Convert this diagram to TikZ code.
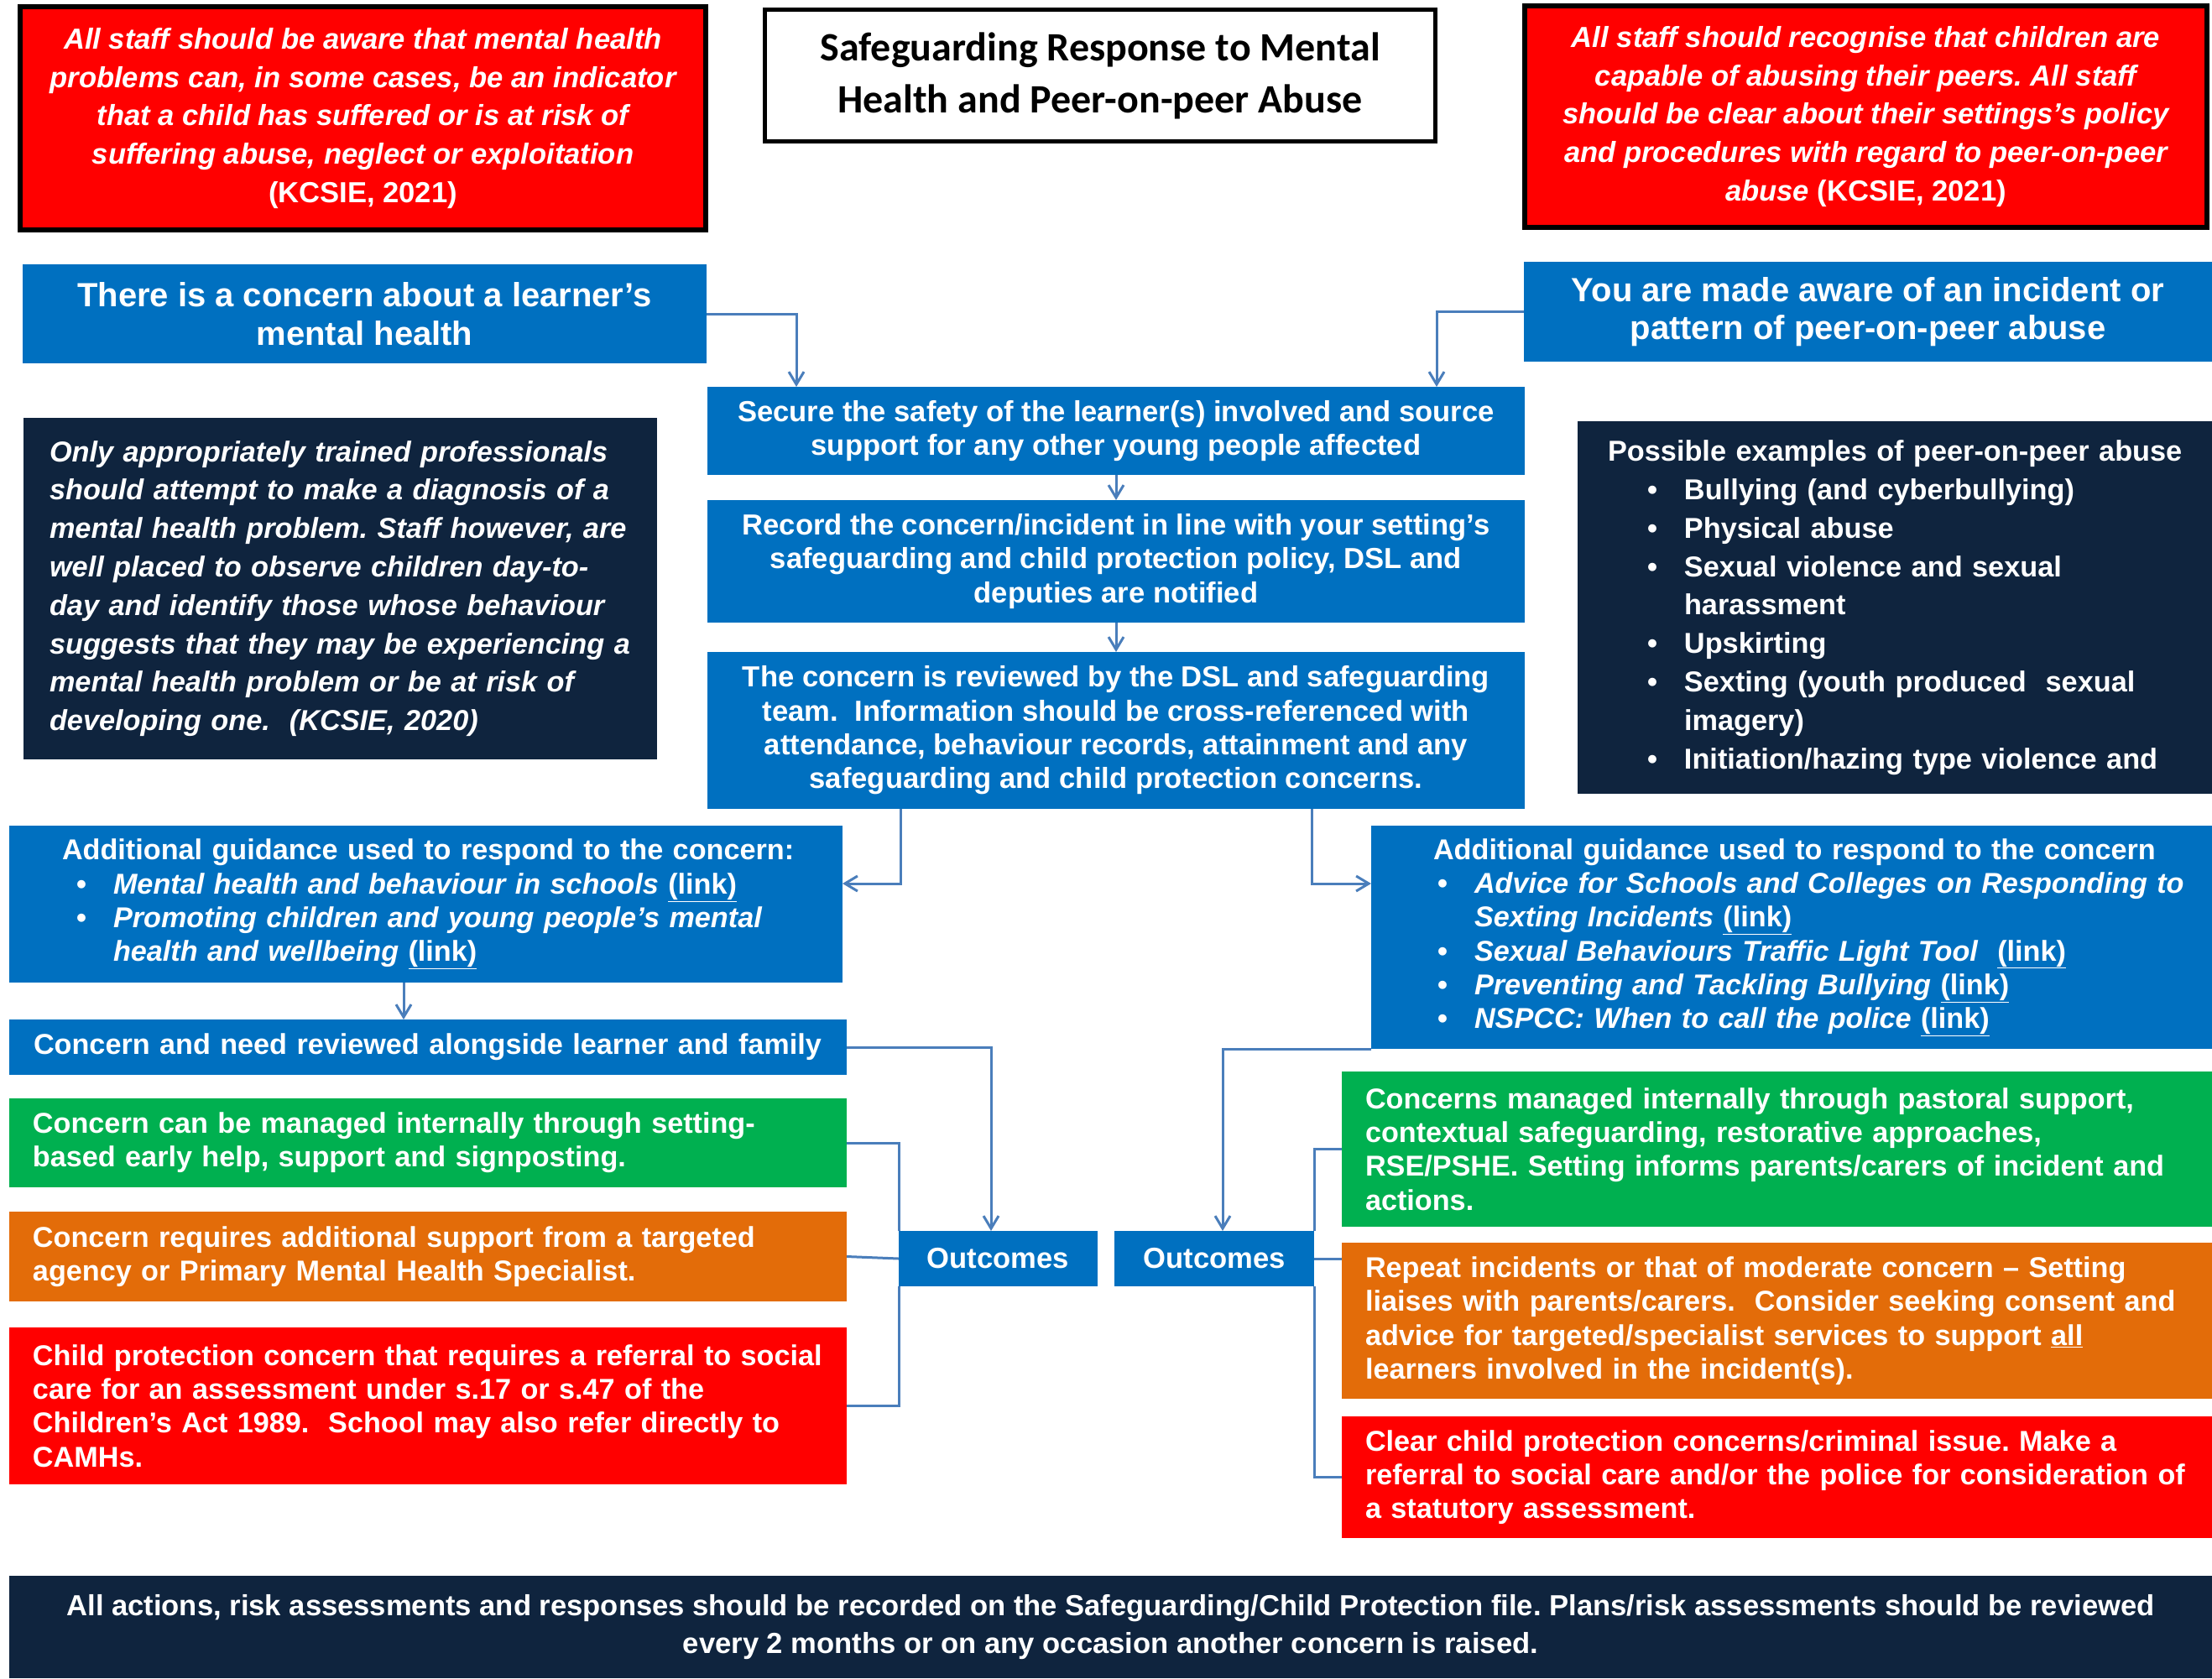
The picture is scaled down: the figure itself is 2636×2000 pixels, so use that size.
\documentclass[tikz,border=0pt]{standalone}
\usepackage{fontspec}
\setmainfont{Liberation Sans}
\newfontfamily\titlefont{Carlito}
\usetikzlibrary{arrows.meta}
\definecolor{ored}{HTML}{FF0000}
\definecolor{oblue}{HTML}{0070C0}
\definecolor{onavy}{HTML}{0F243E}
\definecolor{ogreen}{HTML}{00B050}
\definecolor{oorange}{HTML}{E36C09}
\definecolor{oline}{HTML}{4A7EBB}
\frenchspacing
\newcommand\lk{\underline{(link)}}
\newcommand\bitem[2]{\hspace*{#1}\makebox[#2][l]{•}}
\newcommand\fbody{\bfseries\fontsize{34.6}{40.3}\selectfont}
\newcommand\fleft{\bfseries\fontsize{34.2}{40.3}\selectfont}
\newcommand\fwide{\bfseries\fontsize{34.6}{45.8}\selectfont}
\newcommand\fdark{\bfseries\fontsize{34.3}{45.8}\selectfont}
\newcommand\fhead{\bfseries\fontsize{40}{45.5}\selectfont}
\begin{document}
\begin{tikzpicture}[x=1pt,y=-1pt,
  box/.style={rectangle, inner sep=0pt, outer sep=0pt, anchor=north west, text=white, font=\fbody},
  lbox/.style={box, align=left, text width=#1, minimum width=#1, font=\fleft},
  conn/.style={draw=oline, line width=3pt},
  arr/.style={conn, -{Straight Barb[length=15pt,width=18pt]}}
]
\fill[white] (0,0) rectangle (2636,2000);
\useasboundingbox (0,0) rectangle (2636,2000);

% top row
\node[box, fill=ored, draw=black, line width=6pt, minimum width=817pt, minimum height=266pt, align=center, font=\fwide\itshape] (redTL) at (24,8)
 {All staff should be aware that mental health\\ problems can, in some cases, be an indicator\\ that a child has suffered or is at risk of\\ suffering abuse, neglect or exploitation\\ \upshape(KCSIE, 2021)};
\node[box, fill=white, draw=black, line width=5pt, text=black, minimum width=799pt, minimum height=157pt, align=center, font=\titlefont\bfseries\fontsize{48}{62}\selectfont] (title) at (911.5,11.5)
 {Safeguarding Response to Mental\\ Health and Peer-on-peer Abuse};
\node[box, fill=ored, draw=black, line width=6pt, minimum width=813pt, minimum height=264pt, align=center, font=\fwide\itshape] (redTR) at (1817,7)
 {All staff should recognise that children are\\ capable of abusing their peers. All staff\\ should be clear about their settings’s policy\\ and procedures with regard to peer-on-peer\\ abuse \upshape(KCSIE, 2021)};

% blue headings
\node[box, fill=oblue, minimum width=815pt, minimum height=118pt, align=center, font=\fhead] (blueL) at (27,315)
 {There is a concern about a learner’s\\ mental health};
\node[box, fill=oblue, minimum width=820pt, minimum height=119pt, align=center, font=\fhead] (blueR) at (1816,312)
 {You are made aware of an incident or\\ pattern of peer-on-peer abuse};

% middle column
\node[box, fill=oblue, minimum width=974pt, minimum height=105pt, align=center] (secure) at (843,461)
 {Secure the safety of the learner(s) involved and source\\ support for any other young people affected};
\node[box, fill=oblue, minimum width=974pt, minimum height=146pt, align=center] (record) at (843,596)
 {Record the concern/incident in line with your setting’s\\ safeguarding and child protection policy, DSL and\\ deputies are notified};
\node[box, fill=oblue, minimum width=974pt, minimum height=187pt, align=center] (concern) at (843,777)
 {The concern is reviewed by the DSL and safeguarding\\ team.\ \ Information should be cross-referenced with\\ attendance, behaviour records, attainment and any\\ safeguarding and child protection concerns.};

% dark side boxes
\node[lbox=755pt, fill=onavy, minimum height=407pt, font=\fdark\itshape] (darkL) at (28,498)
 {\leftskip=31pt Only appropriately trained professionals\\ should attempt to make a diagnosis of a\\ mental health problem. Staff however, are\\ well placed to observe children day-to-\\ day and identify those whose behaviour\\ suggests that they may be experiencing a\\ mental health problem or be at risk of\\ developing one.\ \ (KCSIE, 2020)\par};
\node[lbox=756pt, fill=onavy, minimum height=444pt, font=\fdark] (darkR) at (1880,502)
 {\leftskip=36pt Possible examples of peer-on-peer abuse\\
  \bitem{47pt}{44pt}Bullying (and cyberbullying)\\
  \bitem{47pt}{44pt}Physical abuse\\
  \bitem{47pt}{44pt}Sexual violence and sexual\\
  \hspace*{91pt}harassment\\
  \bitem{47pt}{44pt}Upskirting\\
  \bitem{47pt}{44pt}Sexting (youth produced\ \ sexual\\
  \hspace*{91pt}imagery)\\
  \bitem{47pt}{44pt}Initiation/hazing type violence and\par};

% guidance
\node[lbox=993pt, fill=oblue, minimum height=187pt] (guideL) at (11,984)
 {\leftskip=63pt Additional guidance used to respond to the concern:\\
  \bitem{17pt}{44pt}\textit{Mental health and behaviour in schools} \lk\\
  \bitem{17pt}{44pt}\textit{Promoting children and young people’s mental}\\
  \hspace*{61pt}\textit{health and wellbeing} \lk\par};
\node[lbox=1002pt, fill=oblue, minimum height=266pt] (guideR) at (1634,984)
 {\leftskip=74pt Additional guidance used to respond to the concern\\
  \bitem{5pt}{44pt}\textit{Advice for Schools and Colleges on Responding to}\\
  \hspace*{49pt}\textit{Sexting Incidents} \lk\\
  \bitem{5pt}{44pt}\textit{Sexual Behaviours Traffic Light Tool}\ \ \lk\\
  \bitem{5pt}{44pt}\textit{Preventing and Tackling Bullying} \lk\\
  \bitem{5pt}{44pt}\textit{NSPCC: When to call the police} \lk\par};

% left outcomes column
\node[lbox=998pt, fill=oblue, minimum height=66pt] (reviewL) at (11,1215)
 {\leftskip=29pt Concern and need reviewed alongside learner and family\par};
\node[lbox=998pt, fill=ogreen, minimum height=106pt] (greenL) at (11,1309)
 {\leftskip=28pt Concern can be managed internally through setting-\\ based early help, support and signposting.\par};
\node[lbox=998pt, fill=oorange, minimum height=107pt] (orangeL) at (11,1444)
 {\leftskip=28pt Concern requires additional support from a targeted\\ agency or Primary Mental Health Specialist.\par};
\node[lbox=998pt, fill=ored, minimum height=187pt] (redL) at (11,1582)
 {\leftskip=28pt Child protection concern that requires a referral to social\\ care for an assessment under s.17 or s.47 of the\\ Children’s Act 1989.\ \ School may also refer directly to\\ CAMHs.\par};

\node[box, fill=oblue, minimum width=237pt, minimum height=66pt] (outL) at (1071,1467) {Outcomes};
\node[box, fill=oblue, minimum width=238pt, minimum height=66pt] (outR) at (1328,1467) {Outcomes};

% right outcomes column
\node[lbox=1037pt, fill=ogreen, minimum height=185pt] (greenR) at (1599,1277)
 {\leftskip=28pt Concerns managed internally through pastoral support,\\ contextual safeguarding, restorative approaches,\\ RSE/PSHE. Setting informs parents/carers of incident and\\ actions.\par};
\node[lbox=1037pt, fill=oorange, minimum height=186pt] (orangeR) at (1599,1481)
 {\leftskip=28pt Repeat incidents or that of moderate concern – Setting\\ liaises with parents/carers.\ \ Consider seeking consent and\\ advice for targeted/specialist services to support \underline{all}\\ learners involved in the incident(s).\par};
\node[lbox=1037pt, fill=ored, minimum height=145pt] (redR) at (1599,1688)
 {\leftskip=28pt Clear child protection concerns/criminal issue. Make a\\ referral to social care and/or the police for consideration of\\ a statutory assessment.\par};

% bottom bar
\node[box, fill=onavy, minimum width=2625pt, minimum height=122pt, align=center, font=\bfseries\fontsize{34.6}{45.4}\selectfont] (bottom) at (11,1878)
 {All actions, risk assessments and responses should be recorded on the Safeguarding/Child Protection file. Plans/risk assessments should be reviewed\\ every 2 months or on any occasion another concern is raised.};

% connectors
\draw[arr] (blueL.east) -| ([xshift=106pt]secure.north west);
\draw[arr] (blueR.west) -| ([xshift=-105pt]secure.north east);
\draw[arr] (secure.south) -- (record.north);
\draw[arr] (record.south) -- (concern.north);
\draw[arr] ([xshift=230pt]concern.south west) |- ([yshift=-69pt]guideL.north east);
\draw[arr] ([xshift=-254pt]concern.south east) |- ([yshift=-69pt]guideR.north west);
\draw[arr] ([xshift=470pt]guideL.south west) -- ([xshift=470pt]reviewL.north west);
\draw[arr] (reviewL.east) -| ([xshift=110pt]outL.north west);
\draw[arr] (guideR.south west) -| ([xshift=129pt]outR.north west);
\draw[conn] (greenL.east) -| (outL.north west);
\draw[conn] (orangeL.east) -- (outL.west);
\draw[conn] (redL.east) -| (outL.south west);
\draw[conn] (greenR.west) -| (outR.north east);
\draw[conn] (outR.east) -- (outR.east -| orangeR.west);
\draw[conn] (redR.west) -| (outR.south east);
\end{tikzpicture}
\end{document}
